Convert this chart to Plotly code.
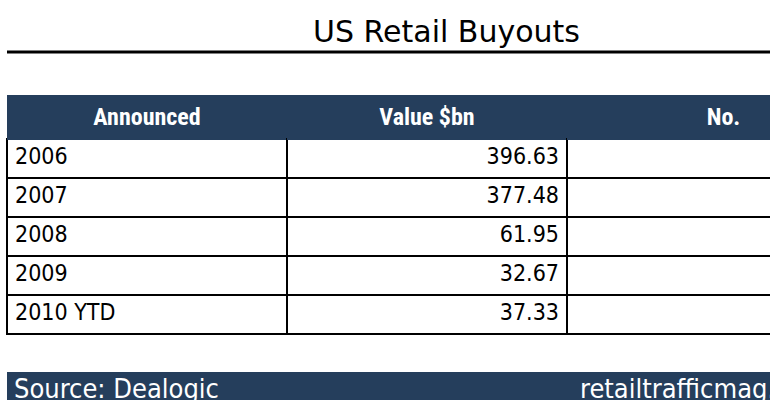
import plotly.graph_objects as go

W, H = 880, 400

headers = ["Announced", "Value $bn", "No."]
years = ["2006", "2007", "2008", "2009", "2010 YTD"]
values = ["396.63", "377.48", "61.95", "32.67", "37.33"]
counts = ["", "", "", "", ""]

navy = "#253e5c"

fig = go.Figure(go.Table(
    domain=dict(x=[7 / W, 1], y=[1 - 340 / H, 1 - 95 / H]),
    columnwidth=[280, 280, 313],
    header=dict(
        values=["<b>%s</b>" % h for h in headers],
        fill_color=navy,
        line_color=navy,
        align="center",
        height=39,
        font=dict(family="Liberation Sans Narrow, Roboto Condensed, sans-serif", size=24, color="white"),
    ),
    cells=dict(
        values=[years, values, counts],
        fill_color="white",
        line=dict(color="black", width=1.5),
        align=["left", "right", "right"],
        height=39,
        font=dict(family="DejaVu Sans Condensed, sans-serif", size=23, color="black"),
    ),
))

# title and rule
fig.add_annotation(text="US Retail Buyouts", x=446 / W, y=1 - 32 / H, xref="paper", yref="paper",
                   yanchor="middle", showarrow=False, font=dict(family="DejaVu Sans", size=30, color="black"))
fig.add_shape(type="line", xref="paper", yref="paper", x0=7 / W, x1=1, y0=1 - 52 / H, y1=1 - 52 / H,
              line=dict(color="black", width=3))

# footer bar
fig.add_shape(type="rect", xref="paper", yref="paper", x0=7 / W, x1=1, y0=0, y1=1 - 372 / H,
              fillcolor=navy, line_width=0)
fig.add_annotation(text="Source: Dealogic", x=12 / W, y=1 - 388 / H, xref="paper", yref="paper",
                   xanchor="left", yanchor="middle", showarrow=False,
                   font=dict(family="DejaVu Sans Condensed", size=27, color="white"))
fig.add_annotation(text="retailtrafficmag.com", x=578 / W, y=1 - 388 / H, xref="paper", yref="paper",
                   xanchor="left", yanchor="middle", showarrow=False,
                   font=dict(family="DejaVu Sans Condensed", size=27, color="white"))

fig.update_layout(width=W, height=H, margin=dict(l=0, r=0, t=0, b=0),
                  paper_bgcolor="white", plot_bgcolor="white")
fig.write_html("out.html", post_script="document.body.style.margin='0';document.body.style.overflow='hidden';")
